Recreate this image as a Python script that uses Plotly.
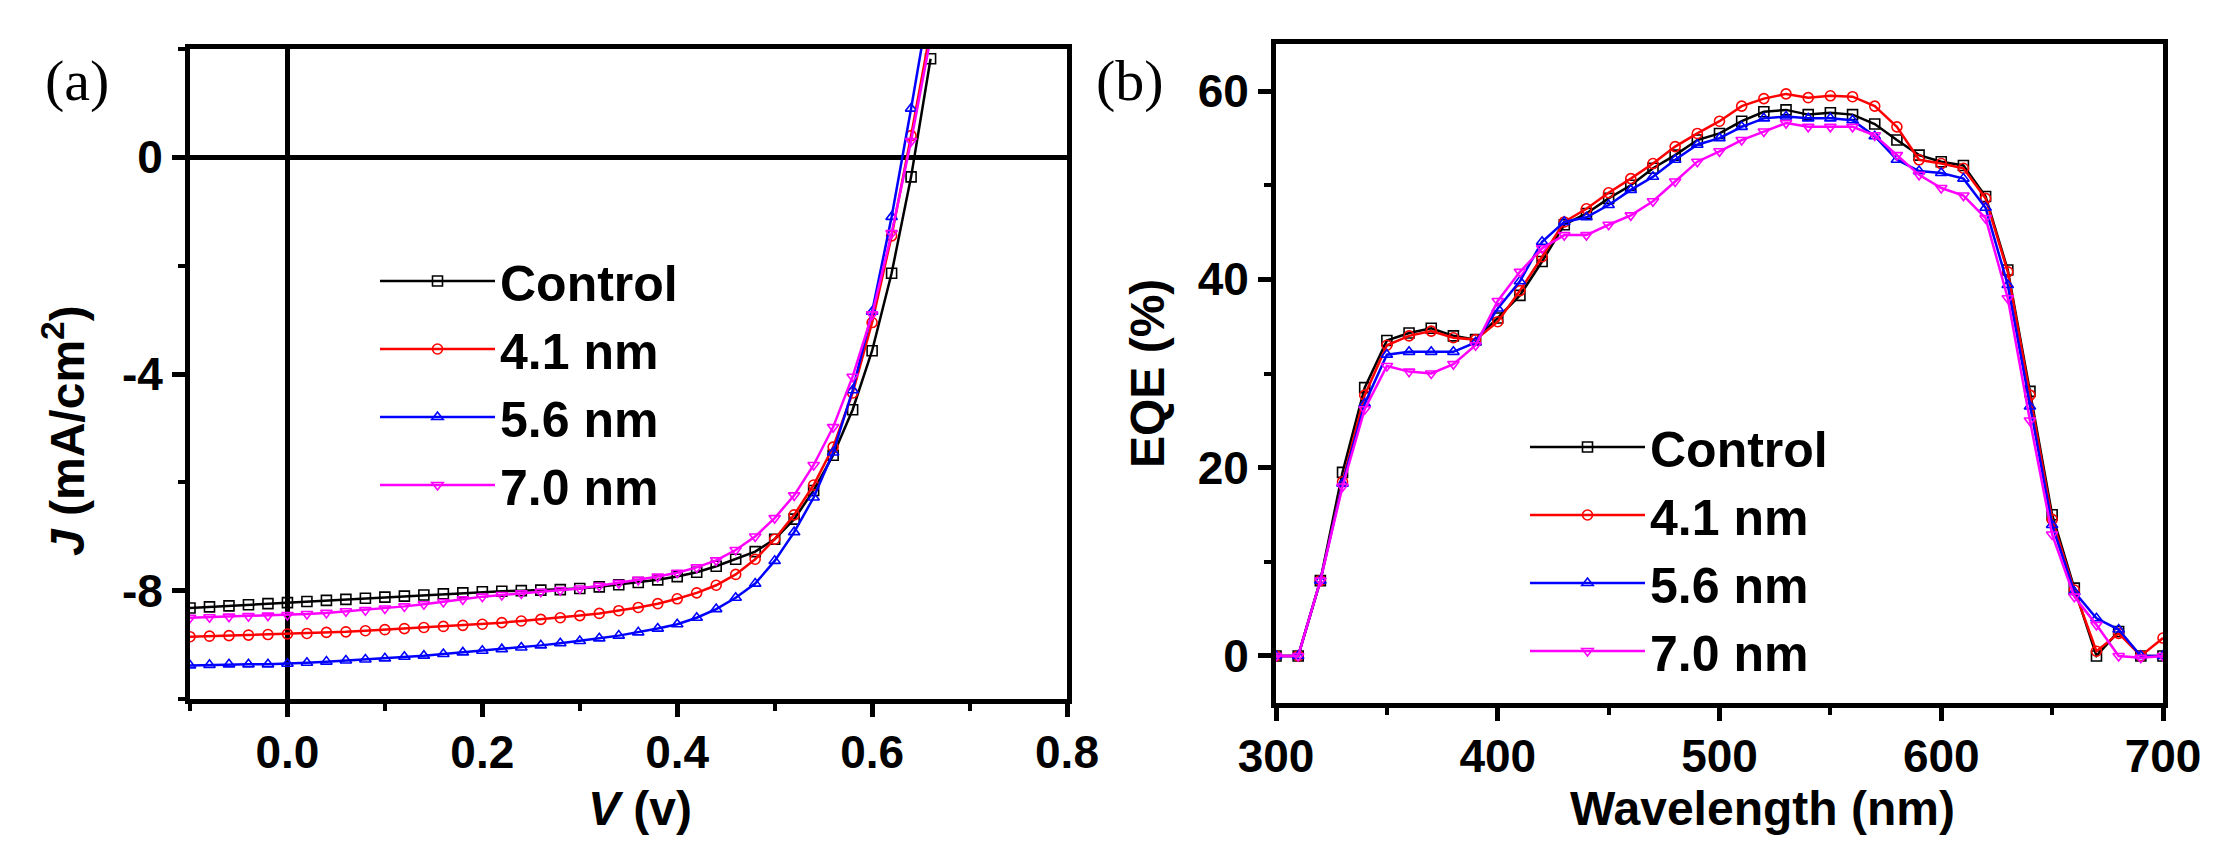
"""
J-V curves (a) and EQE spectra (b) for the control and three interlayer thicknesses.
"""
import plotly.graph_objects as go

# ─────────────────────────────────────────────────────────────────────────────
# Data
# ─────────────────────────────────────────────────────────────────────────────
series_names = ["Control", "4.1 nm", "5.6 nm", "7.0 nm"]
series_colors = ["#000000", "#ff0000", "#0000ff", "#ff00ff"]
series_symbols = ["square-open", "circle-open", "triangle-up-open", "triangle-down-open"]

# (a) current density vs voltage
voltage = [
    -0.10, -0.08, -0.06, -0.04, -0.02, 0.00, 0.02, 0.04, 0.06, 0.08,
    0.10, 0.12, 0.14, 0.16, 0.18, 0.20, 0.22, 0.24, 0.26, 0.28,
    0.30, 0.32, 0.34, 0.36, 0.38, 0.40, 0.42, 0.44, 0.46, 0.48,
    0.50, 0.52, 0.54, 0.56, 0.58, 0.60, 0.62, 0.64, 0.66,
]
j_control = [
    -8.32, -8.30, -8.28, -8.26, -8.24, -8.22, -8.20, -8.18, -8.16, -8.14,
    -8.12, -8.10, -8.08, -8.06, -8.04, -8.02, -8.01, -8.00, -7.99, -7.98,
    -7.96, -7.93, -7.89, -7.85, -7.80, -7.74, -7.66, -7.55, -7.42, -7.28,
    -7.05, -6.68, -6.15, -5.50, -4.66, -3.57, -2.14, -0.36, 1.82,
]
j_41nm = [
    -8.85, -8.84, -8.83, -8.82, -8.81, -8.80, -8.79, -8.77, -8.76, -8.74,
    -8.72, -8.70, -8.68, -8.66, -8.64, -8.62, -8.59, -8.56, -8.53, -8.50,
    -8.46, -8.42, -8.37, -8.31, -8.24, -8.15, -8.04, -7.90, -7.70, -7.42,
    -7.05, -6.60, -6.05, -5.35, -4.35, -3.05, -1.45, 0.40, 2.35,
]
j_56nm = [
    -9.38, -9.37, -9.36, -9.36, -9.36, -9.35, -9.33, -9.31, -9.29, -9.27,
    -9.25, -9.22, -9.20, -9.17, -9.14, -9.11, -9.08, -9.05, -9.01, -8.97,
    -8.93, -8.88, -8.83, -8.77, -8.70, -8.62, -8.50, -8.34, -8.13, -7.87,
    -7.45, -6.92, -6.28, -5.45, -4.30, -2.85, -1.10, 0.90, 3.00,
]
j_70nm = [
    -8.50, -8.49, -8.48, -8.47, -8.46, -8.45, -8.43, -8.41, -8.38, -8.36,
    -8.33, -8.29, -8.25, -8.21, -8.16, -8.11, -8.08, -8.05, -8.02, -7.99,
    -7.96, -7.91, -7.86, -7.80, -7.74, -7.67, -7.57, -7.44, -7.25, -7.00,
    -6.66, -6.24, -5.68, -4.98, -4.05, -2.90, -1.40, 0.30, 2.20,
]
j_tickvals = [-8, -4, 0]
j_ticktext = ["-8", "-4", "0"]   # the figure uses a plain hyphen

# (b) external quantum efficiency vs wavelength
wavelength = [
    300, 310, 320, 330, 340, 350, 360, 370, 380, 390,
    400, 410, 420, 430, 440, 450, 460, 470, 480, 490,
    500, 510, 520, 530, 540, 550, 560, 570, 580, 590,
    600, 610, 620, 630, 640, 650, 660, 670, 680, 690, 700,
]
eqe_control = [
    0.0, 0.0, 8.0, 19.5, 28.5, 33.5, 34.3, 34.8, 34.0, 33.6,
    35.9, 38.3, 41.9, 45.8, 47.0, 48.6, 50.0, 51.8, 53.2, 54.8,
    55.5, 56.8, 57.8, 58.0, 57.5, 57.7, 57.5, 56.5, 54.8, 53.2,
    52.5, 52.1, 48.8, 41.0, 28.1, 15.0, 7.2, 0.0, 2.6, 0.0, 0.0,
]
eqe_41nm = [
    0.0, 0.0, 8.0, 18.5, 27.7, 33.0, 34.0, 34.5, 33.8, 33.6,
    35.5, 38.8, 42.4, 46.1, 47.5, 49.2, 50.7, 52.3, 54.1, 55.5,
    56.8, 58.4, 59.2, 59.7, 59.3, 59.5, 59.4, 58.4, 56.2, 52.7,
    52.3, 51.8, 48.6, 40.8, 27.7, 14.5, 7.0, 0.5, 2.4, 0.0, 1.9,
]
eqe_56nm = [
    0.0, 0.0, 8.0, 18.3, 26.8, 32.0, 32.3, 32.3, 32.3, 33.3,
    36.9, 39.8, 44.0, 46.1, 46.6, 47.9, 49.5, 50.9, 52.7, 54.3,
    55.0, 56.2, 57.1, 57.3, 57.1, 57.1, 56.9, 55.2, 52.7, 51.5,
    51.3, 50.7, 47.6, 39.4, 26.5, 13.9, 6.8, 4.0, 2.8, 0.0, 0.0,
]
eqe_70nm = [
    0.0, 0.0, 8.0, 18.0, 26.2, 30.8, 30.2, 30.0, 31.0, 33.0,
    37.7, 40.8, 43.3, 44.7, 44.7, 45.8, 46.8, 48.3, 50.4, 52.5,
    53.6, 54.8, 55.7, 56.6, 56.2, 56.2, 56.2, 55.3, 53.2, 51.1,
    49.7, 48.9, 46.5, 38.0, 25.0, 12.9, 6.3, 3.3, 0.0, -0.2, 0.0,
]

jv_series = [j_control, j_41nm, j_56nm, j_70nm]
eqe_series = [eqe_control, eqe_41nm, eqe_56nm, eqe_70nm]

# ─────────────────────────────────────────────────────────────────────────────
# Figure
# ─────────────────────────────────────────────────────────────────────────────
W, H = 2214, 852
SANS = "Liberation Sans"
SERIF = "Liberation Serif"

fig = go.Figure()

for name, col, sym, j in zip(series_names, series_colors, series_symbols, jv_series):
    fig.add_trace(go.Scatter(
        x=voltage, y=j, name=name, mode="lines+markers",
        line=dict(color=col, width=2.5),
        marker=dict(symbol=sym, size=10, color=col, line=dict(width=1.6, color=col)),
        xaxis="x", yaxis="y", legend="legend",
    ))

for name, col, sym, e in zip(series_names, series_colors, series_symbols, eqe_series):
    fig.add_trace(go.Scatter(
        x=wavelength, y=e, name=name, mode="lines+markers",
        line=dict(color=col, width=2.5),
        marker=dict(symbol=sym, size=10, color=col, line=dict(width=1.6, color=col)),
        xaxis="x2", yaxis="y2", legend="legend2",
    ))

tickfont = dict(family=SANS, size=46, color="black", weight="bold")
axis_common = dict(
    showline=True, linecolor="black", linewidth=5, mirror=True,
    ticks="outside", ticklen=13, tickwidth=5, tickcolor="black",
    tickfont=tickfont, showgrid=False, automargin=False,
)
minor_common = dict(ticks="outside", ticklen=7, tickwidth=4, tickcolor="black")


def px_x(p):
    return p / W


def px_y(p):
    return 1 - p / H


legend_font = dict(family=SANS, size=50, color="black", weight="bold")

fig.update_layout(
    template="none",
    width=W, height=H,
    margin=dict(l=0, r=0, t=0, b=0, autoexpand=False),
    paper_bgcolor="white", plot_bgcolor="white",
    xaxis=dict(
        domain=[px_x(182), px_x(1059)], range=[-0.1, 0.8],
        tick0=0, dtick=0.2, tickformat=".1f", ticklabelstandoff=-4,
        zeroline=True, zerolinecolor="black", zerolinewidth=5,
        minor=dict(dtick=0.1, tick0=0, **minor_common),
        anchor="y", **axis_common,
    ),
    yaxis=dict(
        domain=[px_y(691), px_y(41)], range=[-10, 2],
        tickmode="array", tickvals=j_tickvals, ticktext=j_ticktext,
        zeroline=True, zerolinecolor="black", zerolinewidth=5,
        minor=dict(tickmode="linear", dtick=2, tick0=0, **minor_common),
        anchor="x", **axis_common,
    ),
    xaxis2=dict(
        domain=[px_x(1268), px_x(2155)], range=[300, 700],
        tick0=300, dtick=100, zeroline=False, ticklabelstandoff=-4,
        minor=dict(dtick=50, tick0=300, **minor_common),
        anchor="y2", **axis_common,
    ),
    yaxis2=dict(
        domain=[px_y(695), px_y(36)], range=[-5, 65],
        tick0=0, dtick=20, zeroline=False,
        minor=dict(dtick=10, tick0=0, **minor_common),
        anchor="x2", **axis_common,
    ),
    legend=dict(
        x=px_x(367), y=px_y(234), xanchor="left", yanchor="top",
        font=legend_font, bgcolor="rgba(0,0,0,0)", borderwidth=0,
        itemwidth=115, tracegroupgap=0,
    ),
    legend2=dict(
        x=px_x(1517), y=px_y(400), xanchor="left", yanchor="top",
        font=legend_font, bgcolor="rgba(0,0,0,0)", borderwidth=0,
        itemwidth=115, tracegroupgap=0,
    ),
    showlegend=True,
)

label_font = dict(family=SANS, size=48, color="black", weight="bold")
annotations = [
    dict(x=px_x(69), y=px_y(72), text="(a)", font=dict(family=SERIF, size=58, color="black")),
    dict(x=px_x(1122), y=px_y(72), text="(b)", font=dict(family=SERIF, size=58, color="black")),
    dict(x=px_x(632), y=px_y(800), text="<i>V</i> (v)", font=label_font),
    dict(x=px_x(1754), y=px_y(800), text="Wavelength (nm)", font=label_font),
    dict(x=px_x(56), y=px_y(423), text="<i>J</i> (mA/cm<sup>2</sup>)", textangle=-90, font=label_font),
    dict(x=px_x(1139), y=px_y(366), text="EQE (%)", textangle=-90, font=label_font),
]
for a in annotations:
    fig.add_annotation(xref="paper", yref="paper", showarrow=False,
                       xanchor="center", yanchor="middle", **a)

fig.write_html("out.html")
